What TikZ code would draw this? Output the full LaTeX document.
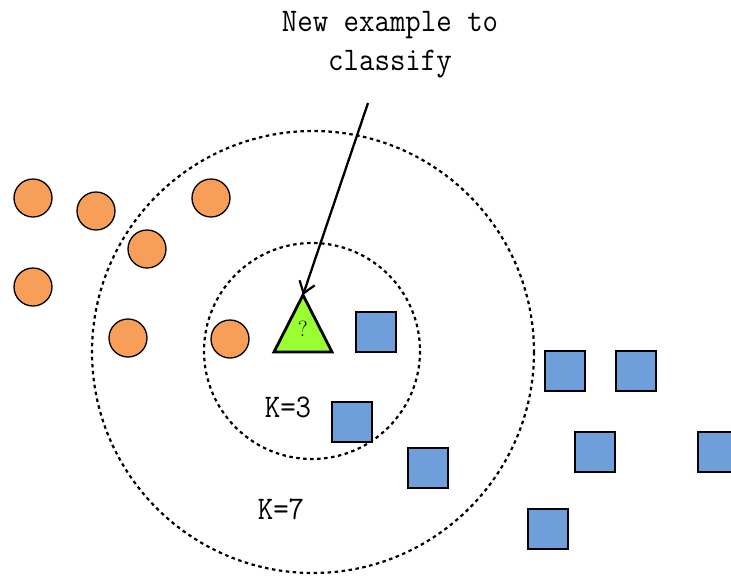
\documentclass[tikz,border=0pt]{standalone}
\usepackage{fontspec}
\usetikzlibrary{arrows.meta}
\definecolor{orangedot}{HTML}{F79E58}
\definecolor{bluesq}{HTML}{6E9FDB}
\definecolor{greentri}{HTML}{99FF33}
\tikzset{
  orangec/.style={circle, draw=black, line width=1.3pt, fill=orangedot, minimum size=38pt, inner sep=0pt},
  bluebox/.style={rectangle, draw=black, line width=1.3pt, fill=bluesq, minimum size=40pt, inner sep=0pt},
  ring/.style={draw=black, line width=2.2pt, dash pattern=on 3.5pt off 3.5pt},
  lbl/.style={font=\fontsize{30pt}{34pt}\ttfamily, inner sep=0pt},
  pointer/.style={draw=black, line width=2.3pt, -{Straight Barb[length=11pt,width=16pt,line width=2.2pt]}}
}
\newcommand{\tallt}[1]{\scalebox{1}[1.1]{\contour{#1}}}
\newcommand{\contour}[1]{#1}
\begin{document}
\begin{tikzpicture}[x=1pt,y=-1pt]
\useasboundingbox (0,0) rectangle (731,576);
% rings
\draw[ring] (313,352) circle[radius=221];
\draw[ring] (312,351) circle[radius=108];
% orange circles
\node[orangec] (o1) at (33,198) {};
\node[orangec] (o2) at (96,211) {};
\node[orangec] (o3) at (211,198) {};
\node[orangec] (o4) at (147,249) {};
\node[orangec] (o5) at (33,287) {};
\node[orangec] (o6) at (128,338) {};
\node[orangec] (o7) at (230,339) {};
% blue squares
\node[bluebox] (b1) at (376,332) {};
\node[bluebox] (b2) at (565,371) {};
\node[bluebox] (b3) at (636,371) {};
\node[bluebox] (b4) at (352,422) {};
\node[bluebox] (b5) at (595,452) {};
\node[bluebox] (b6) at (428,468) {};
\node[bluebox] (b7) at (548,529) {};
\node[bluebox] (b8) at (718,452) {};
% triangle
\coordinate (apex) at (303,295);
\draw[line width=2.8pt, line join=miter, fill=greentri] (apex) -- (332,352) -- (274,352) -- cycle;
\node[inner sep=0pt, font=\fontsize{22pt}{24pt}\selectfont] (q) at (303,329) {?};
% labels
\node[lbl] (t1) at (390,25) {\tallt{New example to}};
\node[lbl] (t2) at (390,64) {\tallt{classify}};
\node[lbl] (k3) at (288,407) {\tallt{K=3}};
\node[lbl] (k7) at (281,509) {\tallt{K=7}};
% arrow
\coordinate (src) at (368,103);
\draw[pointer] (src) -- (apex);
\end{tikzpicture}
\end{document}
